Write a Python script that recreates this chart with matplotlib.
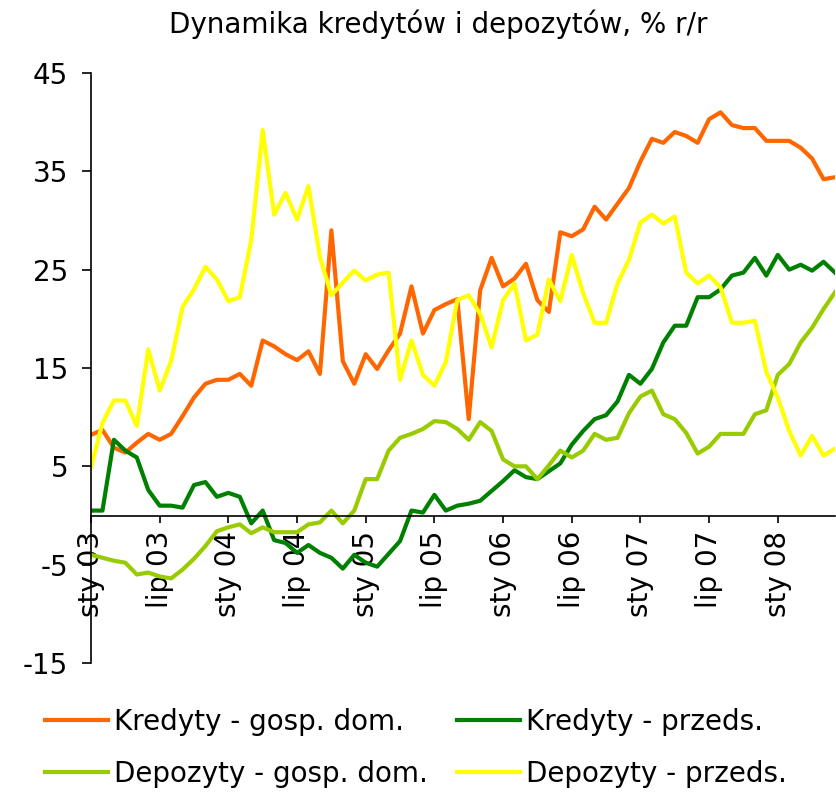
import numpy as np
import matplotlib.pyplot as plt

plt.rcParams['axes.unicode_minus'] = False

# monthly data, Jan 2003 - Jun 2008
kredyty_gd = [8.2, 8.7, 6.9, 6.4, 7.4, 8.3, 7.7, 8.3, 10.1, 12.0, 13.4, 13.8,
              13.8, 14.4, 13.2, 17.8, 17.2, 16.4, 15.8, 16.7, 14.4, 29.0, 15.7, 13.4,
              16.4, 14.9, 16.8, 18.5, 23.3, 18.5, 20.9, 21.5, 22.0, 9.8, 22.9, 26.2,
              23.3, 24.1, 25.6, 21.9, 20.7, 28.8, 28.4, 29.1, 31.4, 30.1, 31.7, 33.3,
              36.0, 38.3, 37.9, 39.0, 38.6, 37.9, 40.3, 41.0, 39.7, 39.4, 39.4, 38.1,
              38.1, 38.1, 37.4, 36.3, 34.2, 34.4]
kredyty_pr = [0.5, 0.5, 7.7, 6.6, 5.9, 2.6, 1.0, 1.0, 0.8, 3.1, 3.4, 1.9,
              2.3, 1.9, -0.8, 0.5, -2.5, -2.8, -3.8, -3.0, -3.8, -4.3, -5.4, -4.0,
              -4.8, -5.2, -3.9, -2.6, 0.5, 0.3, 2.1, 0.5, 1.0, 1.2, 1.5, 2.5,
              3.5, 4.6, 3.9, 3.7, 4.5, 5.3, 7.2, 8.6, 9.8, 10.2, 11.6, 14.3,
              13.4, 14.9, 17.6, 19.3, 19.3, 22.2, 22.2, 23.0, 24.4, 24.7, 26.2, 24.4,
              26.5, 25.0, 25.5, 24.9, 25.8, 24.7]
depozyty_gd = [-4.0, -4.3, -4.6, -4.8, -6.0, -5.8, -6.2, -6.4, -5.5, -4.4, -3.1, -1.6,
               -1.2, -0.9, -1.8, -1.2, -1.7, -1.7, -1.7, -0.9, -0.7, 0.5, -0.8, 0.5,
               3.7, 3.7, 6.6, 7.9, 8.3, 8.8, 9.6, 9.5, 8.8, 7.7, 9.5, 8.6,
               5.7, 5.0, 5.0, 3.7, 5.1, 6.6, 5.9, 6.6, 8.3, 7.7, 7.9, 10.4,
               12.1, 12.7, 10.3, 9.8, 8.4, 6.3, 7.0, 8.3, 8.3, 8.3, 10.3, 10.7,
               14.3, 15.4, 17.6, 19.1, 21.0, 22.7]
depozyty_pr = [4.9, 9.4, 11.7, 11.7, 9.1, 16.9, 12.7, 15.7, 21.2, 23.0, 25.3, 24.0,
               21.8, 22.2, 28.0, 39.2, 30.6, 32.8, 30.1, 33.5, 26.3, 22.4, 23.7, 24.9,
               23.9, 24.5, 24.7, 13.8, 17.8, 14.3, 13.2, 15.6, 21.9, 22.4, 20.5, 17.1,
               21.9, 23.6, 17.8, 18.4, 24.0, 21.8, 26.5, 22.6, 19.6, 19.6, 23.6, 26.0,
               29.8, 30.6, 29.7, 30.4, 24.7, 23.6, 24.4, 23.2, 19.6, 19.6, 19.8, 14.6,
               12.0, 8.6, 6.1, 8.1, 6.1, 6.8]

tick_labels = ['sty 03', 'lip 03', 'sty 04', 'lip 04', 'sty 05', 'lip 05',
               'sty 06', 'lip 06', 'sty 07', 'lip 07', 'sty 08']

x = np.arange(len(kredyty_gd))
fs = 20

fig = plt.figure(figsize=(8.36, 7.93), dpi=100)
ax = fig.add_axes([91/836, 1 - 663/793, (835 - 91)/836, (663 - 73)/793])

l1, = ax.plot(x, kredyty_gd, color='#FF6600', lw=3, label='Kredyty - gosp. dom.')
l2, = ax.plot(x, kredyty_pr, color='#008000', lw=3, label='Kredyty - przeds.')
l3, = ax.plot(x, depozyty_gd, color='#99CC00', lw=3, label='Depozyty - gosp. dom.')
l4, = ax.plot(x, depozyty_pr, color='#FFFF00', lw=3, label='Depozyty - przeds.')

# x axis crosses at zero
ax.spines['bottom'].set_position(('data', 0))
ax.spines['top'].set_visible(False)
ax.spines['right'].set_visible(False)
ax.spines['left'].set_linewidth(1.2)
ax.spines['bottom'].set_linewidth(1.2)

ax.set_xlim(0, len(x) - 1)
ax.set_ylim(-15, 45)
ax.set_yticks(np.arange(-15, 46, 10))
ax.set_xticks(np.arange(0, len(x), 6))
ax.set_xticklabels(tick_labels, rotation=90, fontsize=fs)
ax.tick_params(axis='y', labelsize=fs, length=6.5, width=1.2, direction='out', pad=10)
ax.tick_params(axis='x', length=5, width=1.2, direction='out', pad=6)

fig.text(438/836, 1 - 33/793, 'Dynamika kredytów i depozytów, % r/r',
         fontsize=fs, ha='center', va='baseline')

fig.legend([l1, l3, l2, l4], [l1.get_label(), l3.get_label(), l2.get_label(), l4.get_label()],
           ncol=2, loc='upper left', bbox_to_anchor=(45/836, 1 - 708/793), frameon=False,
           fontsize=fs, handlelength=2.27, handletextpad=0.2, columnspacing=1.07,
           labelspacing=0.87, borderpad=0, borderaxespad=0)

fig.savefig('out.png', dpi=100)
